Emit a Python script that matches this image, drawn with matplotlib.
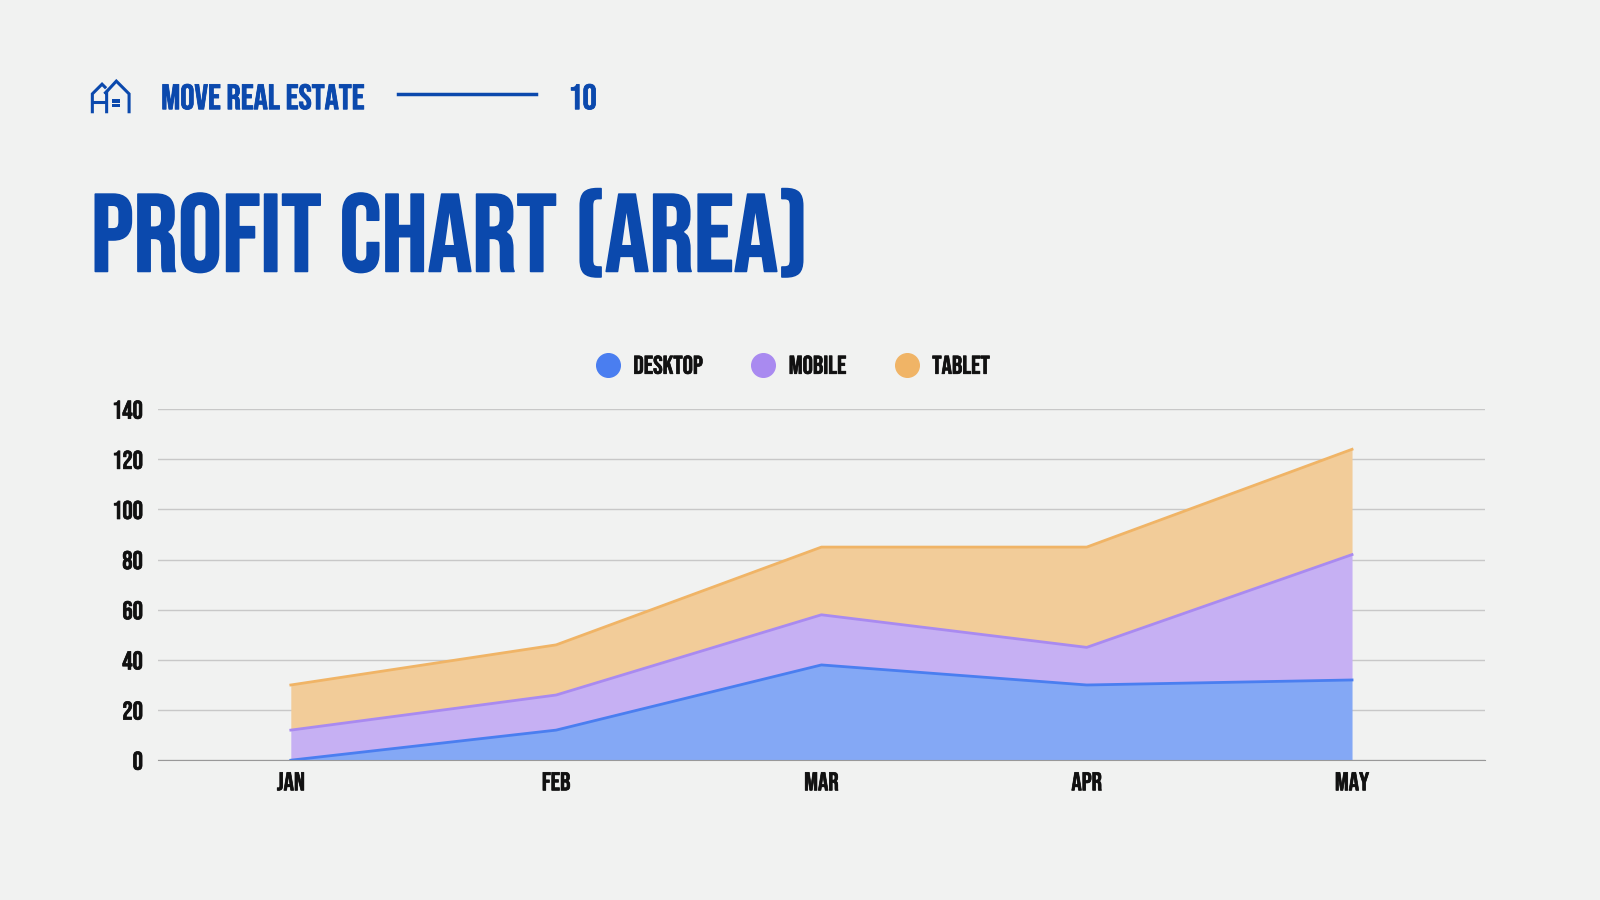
import matplotlib
matplotlib.use('Agg')
from matplotlib import pyplot as plt
from matplotlib.lines import Line2D
from matplotlib import patheffects as pe
import numpy as np

months = ['JAN', 'FEB', 'MAR', 'APR', 'MAY']
desktop = [0, 12, 38, 30, 32]
mobile = [12, 14, 20, 15, 50]
tablet = [18, 20, 27, 40, 42]
series_names = ['DESKTOP', 'MOBILE', 'TABLET']
y_ticks = [0, 20, 40, 60, 80, 100, 120, 140]

bg = '#f1f2f1'
blue_dark = '#0b49ad'
ink = '#111111'
line_cols = ['#4a7ef0', '#a98af0', '#f0b466']
fill_cols = ['#84a8f5', '#c6b0f3', '#f2cc99']

plt.rcParams['font.family'] = ['Bebas Neue', 'DejaVu Sans']
plt.rcParams['font.weight'] = 'normal'

fig = plt.figure(figsize=(16, 9), dpi=100, facecolor=bg)

# positions measured on the 1568x882 reference
W, H = 1568, 882
def fx(px):
    return px / W
def fy(py):
    return 1 - py / H

def bold(lw, col):
    # Bebas Neue ships one weight, thicken it a bit
    return [pe.withStroke(linewidth=lw, foreground=col)]

fig.text(fx(158), fy(107), 'MOVE REAL ESTATE', fontsize=25.5, color=blue_dark, va='baseline', ha='left',
         path_effects=bold(0.6, blue_dark))
fig.add_artist(Line2D([fx(390), fx(525)], [fy(92), fy(92)], color=blue_dark, lw=2.5))
fig.text(fx(557), fy(107), '10', fontsize=25.5, color=blue_dark, va='baseline', ha='left',
         path_effects=bold(0.6, blue_dark))
fig.text(fx(89), fy(266), 'PROFIT CHART (AREA)', fontsize=79.5, color=blue_dark, va='baseline', ha='left',
         path_effects=bold(1.2, blue_dark))

# house icon, drawn in reference pixels (y flipped)
icon = fig.add_axes([fx(86), fy(113), fx(130) - fx(86), fy(76) - fy(113)])
icon.set_xlim(86, 130)
icon.set_ylim(113, 76)
icon.axis('off')
kw = dict(color=blue_dark, lw=2.2, solid_capstyle='butt', solid_joinstyle='miter')
icon.plot([90.5, 90.5, 100, 104], [111, 92, 82.5, 86.5], **kw)
icon.plot([90.5, 104.5], [100, 100], **kw)
icon.plot([104.5, 104.5, 102.5], [111, 90, 92], **kw)
icon.plot([102.5, 114, 126.5, 126.5], [92, 79.5, 92, 111], **kw)
for wx, wy in [(109.5, 97), (114, 97), (109.5, 101.5), (114, 101.5)]:
    icon.add_patch(plt.Rectangle((wx, wy), 3.8, 3.8, color=blue_dark, lw=0))

# chart
ax = fig.add_axes([fx(155), fy(745), fx(1455) - fx(155), fy(401) - fy(745)])
ax.set_facecolor(bg)
x = np.arange(len(months))
stacks = [np.array(desktop), np.array(mobile), np.array(tablet)]
base = np.zeros(len(months))
for vals, lc, fc in zip(stacks, line_cols, fill_cols):
    top = base + vals
    ax.fill_between(x, base, top, color=fc, lw=0, zorder=2)
    ax.plot(x, top, color=lc, lw=2, zorder=3)
    base = top

ax.set_xlim(-0.5, 4.5)
ax.set_ylim(0, 140)
ax.set_yticks(y_ticks)
ax.set_xticks(x)
ax.set_xticklabels(months)
ax.tick_params(axis='both', length=0, labelsize=18.5, labelcolor=ink)
ax.tick_params(axis='y', pad=11)
ax.tick_params(axis='x', pad=8)
for t in ax.get_xticklabels() + ax.get_yticklabels():
    t.set_path_effects(bold(0.5, ink))
ax.grid(axis='y', color='#c8c8c8', lw=1, zorder=0)
for s in ['top', 'right', 'left']:
    ax.spines[s].set_visible(False)
ax.spines['bottom'].set_color('#999999')
ax.spines['bottom'].set_zorder(4)

handles = [Line2D([], [], marker='o', ls='', markersize=17, color=c) for c in line_cols]
leg = ax.legend(handles, series_names, loc='lower center', bbox_to_anchor=(0.477, 1.035), ncol=3,
                frameon=False, fontsize=18.5, handletextpad=0.4, columnspacing=1.75, handlelength=1.2)
for t in leg.get_texts():
    t.set_color(ink)
    t.set_path_effects(bold(0.5, ink))

fig.savefig('out.png', dpi=100, facecolor=bg)
